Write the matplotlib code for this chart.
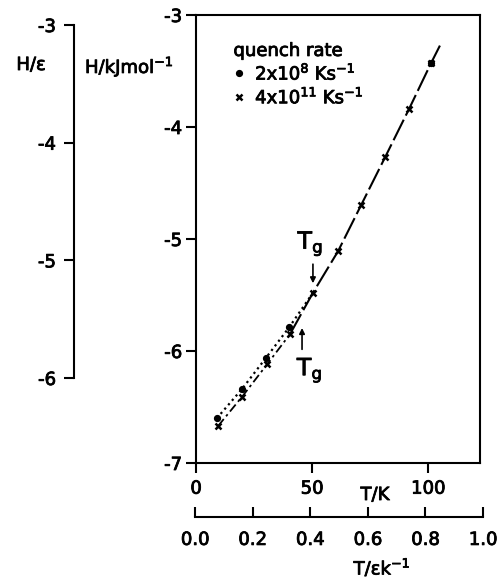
import matplotlib
matplotlib.use("Agg")
import matplotlib.pyplot as plt
import matplotlib.patheffects as pe
from matplotlib.lines import Line2D

plt.rcParams["font.family"] = ["DejaVu Sans"]
plt.rcParams["mathtext.fontset"] = "custom"
plt.rcParams["mathtext.rm"] = "DejaVu Sans"
plt.rcParams["mathtext.it"] = "DejaVu Sans:italic"
plt.rcParams["axes.unicode_minus"] = False

# slow quench (2x10^8 K/s), glass branch
circ_T = [9.0, 19.8, 30.2, 40.1, 50.4]
circ_H = [-6.60, -6.34, -6.06, -5.79, -5.48]
# fast quench (4x10^11 K/s), glass branch
cross_T = [9.5, 19.8, 30.6, 40.5]
cross_H = [-6.67, -6.41, -6.12, -5.85]
# liquid branch, shared by both rates
liq_T = [50.4, 61.2, 71.1, 81.5, 91.8, 101.3]
liq_H = [-5.48, -5.11, -4.70, -4.27, -3.84, -3.43]
# end of the drawn liquid line
line_end_T = 105.2
line_end_H = -3.27

xticks_K = [0, 50, 100]
yticks_kJ = [-7, -6, -5, -4, -3]
xticks_red = [0.0, 0.2, 0.4, 0.6, 0.8, 1.0]
yticks_red = [-6, -5, -4, -3]

W, H = 501, 578
FS = 13
BOLDEN = [pe.withStroke(linewidth=0.6, foreground="black")]


def fx(x):
    return x / W


def fy(y):
    return 1 - y / H


fig = plt.figure(figsize=(W / 100, H / 100), dpi=100)

# main axes
ax = fig.add_axes([fx(196), fy(463), (480 - 196) / W, (463 - 15) / H])
ax.set_xlim(0, 122.4)
ax.set_ylim(-7, -3)
for s in ax.spines.values():
    s.set_linewidth(1.5)
ax.set_xticks(xticks_K)
ax.set_xticklabels([str(t) for t in xticks_K])
ax.set_yticks(yticks_kJ)
ax.set_yticklabels([str(t) for t in yticks_kJ])
ax.tick_params(direction="out", length=7, width=1.5, labelsize=FS, pad=3)
ax.tick_params(axis="x", pad=5)

# glass branches
ax.plot(circ_T, circ_H, color="black", ls=(0, (1, 1.6)), lw=1.6)
ax.plot(cross_T, cross_H, color="black", ls=(0, (5, 2, 1.4, 2)), lw=1.3)
# liquid branch
ax.plot([cross_T[-1]] + liq_T + [line_end_T], [cross_H[-1]] + liq_H + [line_end_H],
        color="black", ls=(0, (11, 2.2)), lw=1.5)

ax.plot(circ_T[:-1], circ_H[:-1], "o", color="black", ms=4.2)
ax.plot(liq_T[-1:], liq_H[-1:], "o", color="black", ms=4.2)
ax.plot(cross_T, cross_H, "x", color="black", ms=4, mew=1.8)
ax.plot(liq_T, liq_H, "x", color="black", ms=4, mew=1.8)

# Tg markers
tg_kw = dict(fontsize=17, ha="center", va="center", path_effects=BOLDEN)
ax.text(49.3, -5.04, r"T$_{\mathrm{g}}$", **tg_kw)
ax.annotate("", xy=(50.4, -5.42), xytext=(50.4, -5.20),
            arrowprops=dict(arrowstyle="-|>", color="black", lw=1.2, mutation_scale=8))
ax.text(49.0, -6.17, r"T$_{\mathrm{g}}$", **tg_kw)
ax.annotate("", xy=(45.7, -5.77), xytext=(45.7, -6.01),
            arrowprops=dict(arrowstyle="-|>", color="black", lw=1.2, mutation_scale=8))

handles = [Line2D([], [], marker="o", ls="none", color="black", ms=4.2),
           Line2D([], [], marker="x", ls="none", color="black", ms=4, mew=1.8)]
leg = ax.legend(handles, [r"2x10$^{8}$ Ks$^{-1}$", r"4x10$^{11}$ Ks$^{-1}$"],
                title="quench rate", loc="upper left", bbox_to_anchor=(0.1, 0.96),
                frameon=False, fontsize=FS, title_fontsize=FS, alignment="left",
                handlelength=0.6, handletextpad=0.6, labelspacing=0.2, borderpad=0)
for t in leg.get_texts() + [leg.get_title()]:
    t.set_path_effects(BOLDEN)

# reduced temperature axis
ax2 = fig.add_axes([fx(195), fy(517), (483 - 195) / W, 0.001])
ax2.set_xlim(0, 1)
ax2.set_yticks([])
for side in ("top", "left", "right"):
    ax2.spines[side].set_visible(False)
ax2.spines["bottom"].set_linewidth(1.5)
ax2.set_xticks(xticks_red)
ax2.set_xticklabels([f"{t:.1f}" for t in xticks_red])
ax2.tick_params(axis="x", direction="in", length=7, width=1.5, labelsize=FS, pad=10)
ax2.patch.set_visible(False)

# reduced enthalpy axis
ax3 = fig.add_axes([fx(74), fy(378), 0.001, (378 - 25) / H])
ax3.set_ylim(-6, -3)
ax3.set_xticks([])
for side in ("top", "bottom", "right"):
    ax3.spines[side].set_visible(False)
ax3.spines["left"].set_linewidth(1.5)
ax3.set_yticks(yticks_red)
ax3.set_yticklabels([str(t) for t in yticks_red])
ax3.tick_params(axis="y", direction="out", length=7, width=1.5, labelsize=FS, pad=6)
ax3.patch.set_visible(False)

for a in (ax, ax2, ax3):
    for t in a.get_xticklabels() + a.get_yticklabels():
        t.set_path_effects(BOLDEN)

fig.text(fx(31), fy(65), "H/ε", fontsize=FS, ha="center", va="center", path_effects=BOLDEN)
fig.text(fx(85), fy(67), r"H/kJmol$^{-1}$", fontsize=FS, ha="left", va="center",
         path_effects=BOLDEN)
fig.text(fx(375), fy(495), "T/K", fontsize=FS, ha="center", va="center", path_effects=BOLDEN)
fig.text(fx(382), fy(568), r"T/εk$^{-1}$", fontsize=FS, ha="center", va="center",
         path_effects=BOLDEN)

fig.savefig("out.png", dpi=100)
